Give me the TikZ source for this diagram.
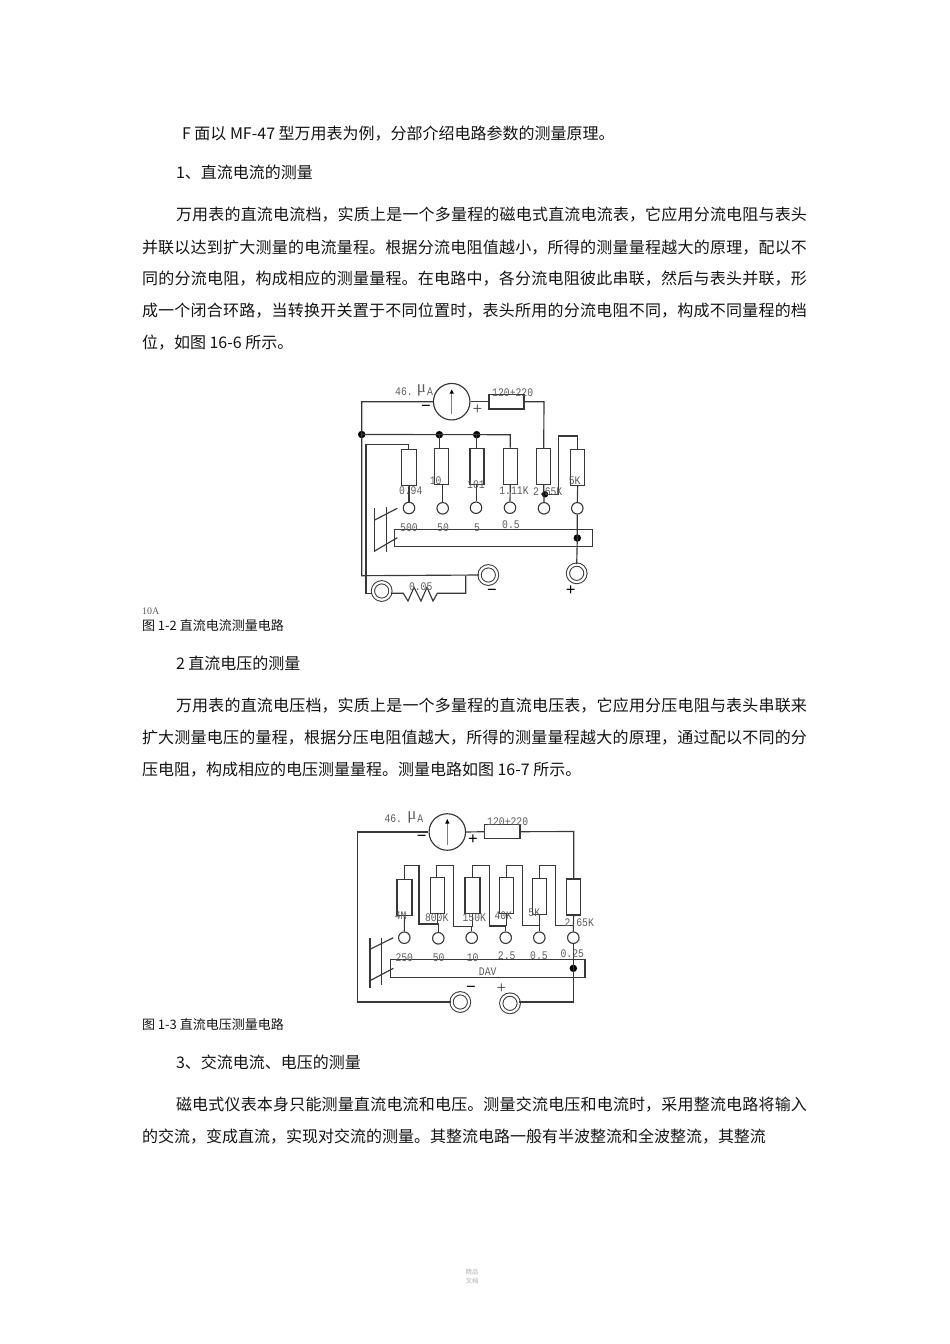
\documentclass[tikz,border=0pt]{standalone}
\usepackage{fontspec}
\setmainfont{Noto Sans CJK SC}
\newfontfamily\lblfont[FakeStretch=0.84]{Liberation Mono}
\newfontfamily\serfont{Liberation Serif}
\XeTeXlinebreaklocale "zh"
\XeTeXlinebreakskip=0pt plus 3pt
\usetikzlibrary{calc}
\definecolor{ink}{gray}{0.08}
\definecolor{wirec}{gray}{0.22}
\definecolor{lblc}{gray}{0.36}
\tikzset{
  body/.style={anchor=base west,inner sep=0pt,outer sep=0pt,text=ink,font=\fontsize{16}{20}\selectfont},
  captxt/.style={anchor=base west,inner sep=0pt,outer sep=0pt,text=ink,font=\fontsize{13}{16}\selectfont},
  wire/.style={draw=wirec,line width=1.15pt},
  res/.style={draw=wirec,line width=1.15pt,inner sep=0pt,minimum width=14pt,minimum height=36pt},
  sres/.style={draw=wirec,line width=1.15pt,inner sep=0pt,minimum width=35pt,minimum height=14.5pt},
  meter/.style={circle,draw=wirec,line width=1.15pt,inner sep=0pt,minimum size=36.5pt},
  ring/.style={circle,draw=wirec,line width=1.1pt,inner sep=0pt,minimum size=11.5pt},
  term/.style={circle,draw=wirec,line width=1pt,double,double distance=2.2pt,inner sep=0pt,minimum size=17.5pt},
  jdot/.style={circle,fill=black,inner sep=0pt,minimum size=7.5pt},
  sbox/.style={draw=wirec,line width=1.15pt,inner sep=0pt},
  lbl/.style={inner sep=0pt,text=lblc,font=\lblfont\fontsize{11.6}{12}\selectfont},
  mu/.style={inner sep=0pt,text=lblc,font=\serfont\fontsize{17}{17}\selectfont},
  sgn/.style={inner sep=0pt,text=black,font=\bfseries\serfont\fontsize{17}{17}\selectfont},
  thinsgn/.style={inner sep=0pt,text=wirec,font=\serfont\fontsize{17}{17}\selectfont},
  foot/.style={inner sep=0pt,text=black!30,font=\fontsize{6.5}{7}\selectfont},
}
\newcommand{\jline}[5]{\node[body] (#1) at (#2,#3) {\parbox[b]{#4pt}{\parindent=0pt\parfillskip=0pt\leavevmode #5}};}
\begin{document}
\begin{tikzpicture}[x=1pt,y=-1pt]
\useasboundingbox (0,0) rectangle (950,1344);
% --- text ---
\node[body] (t1) at (182,139.5) {F 面以 MF-47 型万用表为例，分部介绍电路参数的测量原理。};
\node[body] (t2) at (176,178) {1、直流电流的测量};
\jline{p1}{176}{220.5}{631}{万用表的直流电流档，实质上是一个多量程的磁电式直流电流表，它应用分流电阻与表头}
\jline{p2}{142}{253.5}{665}{并联以达到扩大测量的电流量程。根据分流电阻值越小，所得的测量量程越大的原理，配以不}
\jline{p3}{142}{284.5}{665}{同的分流电阻，构成相应的测量量程。在电路中，各分流电阻彼此串联，然后与表头并联，形}
\jline{p4}{142}{316.5}{665}{成一个闭合环路，当转换开关置于不同位置时，表头所用的分流电阻不同，构成不同量程的档}
\node[body] (p5) at (142,348.5) {位，如图 16-6 所示。};
\node[anchor=base west,inner sep=0pt,text=lblc,font=\serfont\fontsize{10}{10}\selectfont] (ten) at (142,614.5) {10A};
\node[captxt] (c1) at (142,630) {图 1-2 直流电流测量电路};
\node[body] (t3) at (176,669) {2 直流电压的测量};
\jline{q1}{176}{711.5}{631}{万用表的直流电压档，实质上是一个多量程的直流电压表，它应用分压电阻与表头串联来}
\jline{q2}{142}{743.5}{665}{扩大测量电压的量程，根据分压电阻值越大，所得的测量量程越大的原理，通过配以不同的分}
\node[body] (q3) at (142,775.5) {压电阻，构成相应的电压测量量程。测量电路如图 16-7 所示。};
\node[captxt] (c2) at (142,1029) {图 1-3 直流电压测量电路};
\node[body] (t4) at (176,1068.5) {3、交流电流、电压的测量};
\jline{s1}{176}{1110.5}{631}{磁电式仪表本身只能测量直流电流和电压。测量交流电压和电流时，采用整流电路将输入}
\node[body] (s2) at (142,1142.5) {的交流，变成直流，实现对交流的测量。其整流电路一般有半波整流和全波整流，其整流};
\node[foot] (f1) at (472,1272.5) {精品};
\node[foot] (f2) at (472,1281) {文档};

% ===== Figure 1 =====
\node[meter] (m) at (451.7,401.7) {};
\node[sres] (rs) at (506.5,401.7) {};
\node[res,minimum width=15pt] (a1) at (408.8,467.7) {};
\node[res] (a2) at (441.3,466.3) {};
\node[res] (a3) at (477,466.5) {};
\node[res] (a4) at (510.3,466.3) {};
\node[res] (a5) at (543.7,466.5) {};
\node[res] (a6) at (577.7,467.3) {};
\node[ring] (b1) at (409,508) {};
\node[ring] (b2) at (442.7,508.3) {};
\node[ring] (b3) at (476,507.7) {};
\node[ring] (b4) at (510,507.7) {};
\node[ring] (b5) at (544,508.3) {};
\node[ring] (b6) at (577.3,508.3) {};
\node[jdot] (d0) at (361.7,434.5) {};
\node[jdot] (d1) at (439.3,434.7) {};
\node[jdot] (d2) at (476.7,434.7) {};
\node[jdot,minimum size=6.5pt] (d3) at (545,494.3) {};
\node[jdot] (d4) at (577.3,538) {};
\node[sbox,minimum width=197.6pt,minimum height=17pt] (sw) at (493.5,538.2) {};
\node[term] (tm) at (488.3,575) {};
\node[term] (tp) at (576.7,573.3) {};
\node[term] (tx) at (381.7,591) {};
\coordinate (k1) at (361.7,401.7);
\coordinate (k2) at (361.7,575.7);
\coordinate (k3) at (366,444.3);
\coordinate (k4) at (366,593.3);
\coordinate (k5) at (544,401.7);
\coordinate (k6) at (510.3,434.7);
\coordinate (k7) at (558.3,494.3);
\coordinate (k8) at (558.3,436);
\coordinate (k9) at (577.7,436);
\coordinate (k10) at (465.7,575.7);
\coordinate (k11) at (465.7,593.3);
\coordinate (k12) at (408.8,444.3);
\draw[wire] (m.west) -- (k1) -- (k2) -- (tm.west);
\draw[wire] (m.east) -- (rs.west);
\draw[wire] (rs.east) -- (k5) -- (a5.north);
\draw[wire] (d0.center) -- (k6) -- (a4.north);
\draw[wire] (d1.center) -- (d1.center |- a2.north);
\draw[wire] (d2.center) -- (d2.center |- a3.north);
\draw[wire] (a1.north) -- (k12) -- (k3) -- (k4) -- (tx.west |- k4);
\draw[wire] (a1.south) -- (a1.south -| b1.north) -- (b1.north);
\draw[wire] (a2.south -| b2.north) -- (b2.north);
\draw[wire,line width=0.8pt] (a3.south -| b3.north) -- (b3.north);
\draw[wire] (a4.south) -- (b4.north);
\draw[wire] (a5.south) -- (b5.north);
\draw[wire] (d3.center) -- (k7) -- (k8) -- (k9) -- (a6.north);
\draw[wire] (a6.south) -- (b6.north);
\draw[wire] (b6.south) -- (d4.center) -- (tp.north);
\draw[wire] (k10) -- (k11) -- (455,593.3)
  -- (437.3,593.3) -- (433,601) -- (427,587.3) -- (421,601) -- (414,587.3) -- (408,601) -- (403.3,593.3) -- (tx.east |- k11);
% switch
\coordinate (sa) at (374.7,508.3); \coordinate (sb) at (374.7,552.3);
\coordinate (sc) at (386.3,507.3); \coordinate (sd) at (386.3,552.3);
\draw[wire] (sa) -- (sb); \draw[wire] (sc) -- (sd);
\draw[wire] (374.7,520) -- (397.3,508.3);
\draw[wire] (374.7,551) -- (397.3,537.7);
% pointer
\draw[draw=black!50,line width=1.4pt] (m.center |- 0,414) -- (m.center |- 0,392);
\fill[black] (451.7,389.5) -- (449.6,393.5) -- (453.8,393.5) -- cycle;
% labels
\node[lbl] (l1) at (404,391.7) {46.};
\node[mu] (l2) at (421.5,390.5) {μ};
\node[lbl] (l3) at (430,392) {A};
\node[sgn] (l4) at (426,408.5) {−};
\node[thinsgn] (l5) at (477.3,409.3) {+};
\node[lbl] (l6) at (512.7,392.3) {120+220};
\node[lbl] (l7) at (410.7,490.5) {0.94};
\node[lbl] (l8) at (435.7,481) {10};
\node[lbl] (l9) at (476,485) {101};
\node[lbl] (l10) at (514,491) {1.11K};
\node[lbl] (l11) at (547.7,491.7) {2.65K};
\node[lbl] (l12) at (574.7,481) {5K};
\node[lbl] (l13) at (409,527.3) {500};
\node[lbl] (l14) at (443,527.3) {50};
\node[lbl] (l15) at (477,527.3) {5};
\node[lbl] (l16) at (511,525) {0.5};
\node[lbl] (l17) at (420.7,586.7) {0.05};
\node[sgn] (l18) at (492,592.5) {−};
\node[sgn] (l19) at (570.7,591) {+};

% ===== Figure 2 =====
\node[meter] (M) at (447.3,832) {};
\node[sres,minimum width=35.7pt,minimum height=14pt] (Rs) at (502.2,831.7) {};
\node[res,minimum width=15pt] (e1) at (404.5,897.8) {};
\node[res] (e2) at (437.2,895.7) {};
\node[res,minimum width=15pt] (e3) at (472.5,895.7) {};
\node[res] (e4) at (506.3,895.7) {};
\node[res] (e5) at (539.3,896.2) {};
\node[res] (e6) at (573.7,897) {};
\node[ring] (g1) at (404.3,937.7) {};
\node[ring] (g2) at (438.3,938.3) {};
\node[ring] (g3) at (471.7,937.7) {};
\node[ring] (g4) at (505.7,937.7) {};
\node[ring] (g5) at (539.3,937.7) {};
\node[ring] (g6) at (573.3,937.7) {};
\node[jdot] (D) at (573.3,968.3) {};
\node[sbox,minimum width=194.3pt,minimum height=18pt] (SW) at (487.9,968.7) {};
\node[term] (Tm) at (460.3,1002) {};
\node[term] (Tp) at (510,1003.3) {};
\coordinate (K1) at (357.3,832);
\coordinate (K2) at (357.3,1002);
\coordinate (K3) at (573.7,831.5);
\coordinate (K4) at (573.3,1002);
\draw[wire] (M.west) -- (K1) -- (K2) -- (Tm.west);
\draw[wire] (M.east) -- (Rs.west);
\draw[wire] (Rs.east) -- (K3) -- (e6.north);
\draw[wire] (e6.south) -- (g6.north);
\draw[wire] (g6.south) -- (D.center) -- (K4) -- (Tp.east |- K4);
\draw[wire] (e1.south) -- (g1.north);
\draw[wire] (e1.north) -- ++(0,-13.8) -| (419,924) -| (g2.north);
\draw[wire] (e2.north) ++(-1,0) -- ++(0,-12) -| (453.3,926.7) -| (g3.north);
\draw[wire] (e3.north) -- ++(0,-12) -| (489.7,926) -| (g4.north);
\draw[wire] (e4.north) -- ++(0,-12) -| (522.7,925.3) -| (g5.north);
\draw[wire] (e5.north) -- ++(0,-12.2) -| (555.7,925.3) -- (g6.north |- 0,925.3);
\draw[wire] (e2.south) -- (e2.south |- 0,924);
\draw[wire] (e3.south) -- (e3.south |- 0,926.7);
\draw[wire] (e4.south) -- (e4.south |- 0,926);
\draw[wire] (e5.south) -- (e5.south |- 0,925.3);
% switch
\coordinate (Sa) at (370,937.7); \coordinate (Sb) at (370,988.3);
\coordinate (Sc) at (381.7,937.7); \coordinate (Sd) at (381.7,985);
\draw[wire] (Sa) -- (Sb); \draw[wire] (Sc) -- (Sd);
\draw[wire] (370,949.3) -- (393.3,937.7);
\draw[wire] (370,980.7) -- (393.3,968.3);
% pointer
\draw[draw=black!50,line width=1.4pt] (M.center |- 0,845) -- (M.center |- 0,822);
\fill[black] (447.3,819) -- (445.2,823.5) -- (449.4,823.5) -- cycle;
% labels
\node[lbl] (L1) at (393.3,818.3) {46.};
\node[mu] (L2) at (412,817) {μ};
\node[lbl] (L3) at (420.3,818.3) {A};
\node[sgn] (L4) at (421.7,838.5) {−};
\node[sgn] (L5) at (473,839.3) {+};
\node[lbl] (L6) at (507.7,822) {120+220};
\node[lbl] (L7) at (400.7,915.7) {4M};
\node[lbl] (L8) at (436.7,917.3) {800K};
\node[lbl] (L9) at (474.3,917.3) {150K};
\node[lbl] (L10) at (503.3,916) {40K};
\node[lbl] (L11) at (534.3,912.3) {5K};
\node[lbl] (L12) at (579.3,922.7) {2.65K};
\node[lbl] (L13) at (404.3,957.7) {250};
\node[lbl] (L14) at (438.7,957.7) {50};
\node[lbl] (L15) at (472.7,957.7) {10};
\node[lbl] (L16) at (506.7,955.7) {2.5};
\node[lbl] (L17) at (539,955.7) {0.5};
\node[lbl] (L18) at (572.3,954) {0.25};
\node[lbl] (L19) at (487.7,971.3) {DAV};
\node[sgn] (L20) at (471,989.5) {−};
\node[thinsgn] (L21) at (501.3,988.7) {+};
\end{tikzpicture}
\end{document}
